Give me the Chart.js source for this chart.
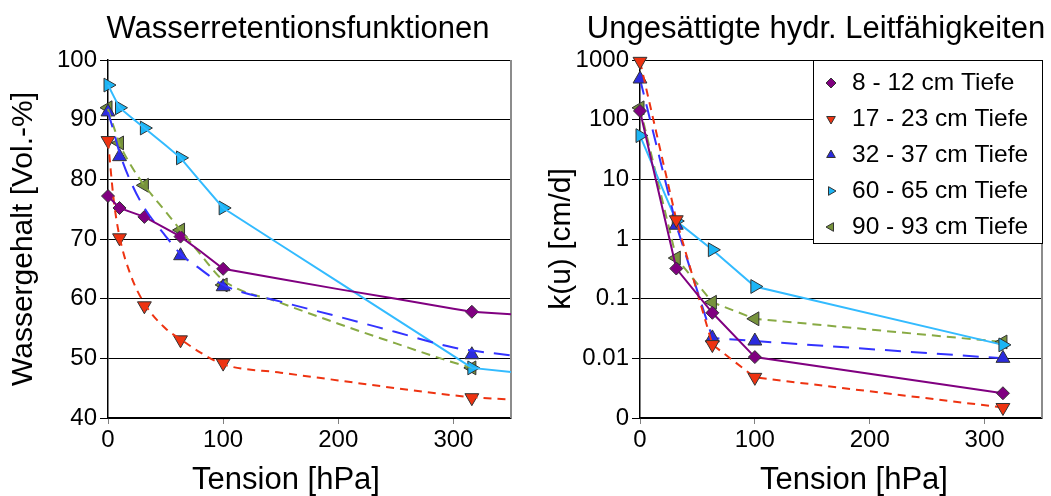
<!DOCTYPE html>
<html>
<head>
<meta charset="utf-8">
<script src="https://cdn.jsdelivr.net/npm/chart.js"></script>
<style>
  html, body { margin: 0; background: #fff; overflow: hidden; }
  #wrap { position: relative; width: 1051px; height: 496px; font-family: 'Liberation Sans', Arial, sans-serif; }
  .panel { position: absolute; top: 0; height: 496px; }
  .txt { position: absolute; white-space: nowrap; text-align: center; color: #000; line-height: 1; }
  .title { font-size: 31px; top: 12px; }
  .xtitle { font-size: 31px; top: 463px; }
</style>
</head>
<body>
<div id="wrap">
  <div class="panel" style="left:0;width:530px"><canvas id="retention"></canvas></div>
  <div class="panel" style="left:530px;width:521px"><canvas id="conductivity"></canvas></div>
  <div class="txt title" style="left:48px;width:500px">Wasserretentionsfunktionen</div>
  <div class="txt title" style="left:566px;width:500px">Ungesättigte hydr. Leitfähigkeiten</div>
  <div class="txt xtitle" style="left:136px;width:300px">Tension [hPa]</div>
  <div class="txt xtitle" style="left:704px;width:300px">Tension [hPa]</div>
</div>
<script>
// Legende / Tiefen
const depthLabels = ['8 - 12 cm Tiefe', '17 - 23 cm Tiefe', '32 - 37 cm Tiefe', '60 - 65 cm Tiefe', '90 - 93 cm Tiefe'];

// Wassergehalt [Vol.-%] - Messpunkte (null = kein Messwert)
const retTension = [0, 10, 31.6, 63, 100, 316];
const wg8_12  = [77.2, 75.2, 73.7, 70.4, 65.0, 57.8];
const wg17_23 = [86.5, 70.2, 58.8, 53.1, 49.2, 43.4];
const wg32_37 = [91.3, 83.8, null, 67.2, 62.0, 50.6];
const wg60_65 = [95.8, 92.0, 88.6, 83.6, 75.2, 48.4];
const wg90_93 = [92.0, 86.1, 79.0, 71.5, 62.3, 48.4];

// angepasste Kurven
const curveTension = [0, 5, 10, 20, 31.6, 50, 63, 80, 100, 150, 200, 250, 300, 316, 350];
const fit8_12  = [77.2, 76.2, 75.2, 74.5, 73.7, 71.8, 70.4, 68.0, 65.0, 63.3, 61.6, 60.0, 58.3, 57.8, 57.4];
const fit17_23 = [86.5, 76.5, 70.4, 63.8, 59.2, 55.0, 53.2, 51.0, 49.0, 47.6, 46.3, 45.0, 43.8, 43.5, 43.1];
const fit32_37 = [91.3, 88.0, 84.5, 79.5, 75.2, 70.5, 67.5, 65.0, 62.3, 59.5, 57.0, 54.4, 51.8, 51.3, 50.5];
const fit60_65 = [95.8, 93.9, 92.0, 90.4, 88.6, 85.7, 83.6, 79.7, 75.2, 69.0, 62.8, 56.6, 50.4, 48.4, 47.7];
const fit90_93 = [91.8, 88.8, 86.0, 82.3, 79.0, 74.6, 71.5, 67.5, 63.1, 59.3, 55.8, 52.5, 49.3, 48.4, null];

// k(u) [cm/d]
const kTension = [0, 31.6, 63, 100, 316];
const k8_12  = [140, 0.32, 0.058, 0.0105, 0.0026];
const k17_23 = [950, 2.1, 0.017, 0.0048, 0.0015];
const k32_37 = [480, 1.7, 0.022, 0.0195, 0.010];
const k60_65 = [54, 2.0, 0.66, 0.16, 0.0168];
const k90_93 = [158, 0.48, 0.087, 0.046, 0.0188];

// Achsen
const xTicks = [0, 100, 200, 300];
const wgTicks = [40, 50, 60, 70, 80, 90, 100];
const kTicks = [0.001, 0.01, 0.1, 1, 10, 100, 1000];

// Stil
const markerColors = ['#800080', '#ee3311', '#2b2bdd', '#1cb5f5', '#77933c'];
const lineColors   = ['#800080', '#ee3311', '#3333ff', '#33bbff', '#88aa44'];
const lineDashes   = [[], [8, 6], [16, 10], [], [9, 6]];
const curveSmooth  = [false, true, true, false, true];
const markerStyles = ['rectRot', 'triangle', 'triangle', 'triangle', 'triangle'];
const markerRot    = [0, 180, 0, 90, 270];

Chart.defaults.font.family = "'Liberation Sans', Arial, sans-serif";
Chart.defaults.color = '#000';

const toXY = (xs, ys) => xs.map((x, i) => ({ x: x, y: ys[i] })).filter(p => p.y !== null);

function markerSet(i, xs, ys, withLine) {
  return {
    label: depthLabels[i],
    data: toXY(xs, ys),
    showLine: withLine,
    borderColor: lineColors[i],
    borderWidth: 2,
    borderDash: lineDashes[i],
    backgroundColor: markerColors[i],
    pointStyle: markerStyles[i],
    pointRotation: markerRot[i],
    pointRadius: i === 0 ? 6.5 : 8,
    pointBorderColor: '#333',
    pointBorderWidth: 1,
    clip: false
  };
}

function curveSet(i, ys) {
  return {
    label: depthLabels[i] + ' (Anpassung)',
    data: toXY(curveTension, ys),
    showLine: true,
    borderColor: lineColors[i],
    borderWidth: 2,
    borderDash: lineDashes[i],
    pointRadius: 0,
    cubicInterpolationMode: curveSmooth[i] ? 'monotone' : 'default',
    tension: 0,
    clip: false
  };
}

// grauer rechter Rahmen
const rightFrame = {
  id: 'rightFrame',
  beforeDatasetsDraw(chart) {
    const { ctx, chartArea } = chart;
    ctx.save();
    ctx.strokeStyle = '#8c8c8c';
    ctx.lineWidth = 2;
    ctx.beginPath();
    ctx.moveTo(chartArea.right, chartArea.top);
    ctx.lineTo(chartArea.right, chartArea.bottom);
    ctx.stroke();
    ctx.restore();
  }
};

// Legende im Diagramm (rechts oben)
const depthLegend = {
  id: 'depthLegend',
  afterDraw(chart) {
    const { ctx, chartArea } = chart;
    const w = 229, h = 183;
    const x0 = chartArea.right - w, y0 = chartArea.top;
    ctx.save();
    ctx.fillStyle = '#fff';
    ctx.fillRect(x0, y0, w, h);
    ctx.strokeStyle = '#000';
    ctx.lineWidth = 1;
    ctx.strokeRect(x0 + 0.5, y0 + 0.5, w, h);
    ctx.font = "24.5px 'Liberation Sans', Arial, sans-serif";
    ctx.textBaseline = 'middle';
    depthLabels.forEach((label, i) => {
      const y = y0 + 23 + i * 36;
      ctx.fillStyle = markerColors[i];
      ctx.strokeStyle = '#333';
      ctx.lineWidth = 1;
      Chart.helpers.drawPoint(ctx, {
        pointStyle: markerStyles[i], rotation: markerRot[i], radius: 5, borderWidth: 1
      }, x0 + 18, y);
      ctx.fillStyle = '#000';
      ctx.fillText(label, x0 + 39, y);
    });
    ctx.restore();
  }
};

function xScale() {
  return {
    type: 'linear',
    min: 0,
    max: 350,
    afterBuildTicks: s => { s.ticks = xTicks.map(v => ({ value: v })); },
    afterFit: s => { s.height = 78; },
    ticks: { font: { size: 24 }, padding: 2, maxRotation: 0 },
    grid: { drawOnChartArea: false, color: '#808080', tickLength: 6 },
    border: { color: '#000', width: 1.5 }
  };
}

function yTitle(text, pad) {
  return { display: true, text: text, font: { size: 30 }, padding: { top: pad, bottom: 0 } };
}

new Chart(document.getElementById('retention'), {
  type: 'scatter',
  data: {
    datasets: [
      curveSet(0, fit8_12), curveSet(1, fit17_23), curveSet(2, fit32_37),
      curveSet(3, fit60_65), curveSet(4, fit90_93),
      markerSet(0, retTension, wg8_12, false), markerSet(1, retTension, wg17_23, false),
      markerSet(2, retTension, wg32_37, false), markerSet(3, retTension, wg60_65, false),
      markerSet(4, retTension, wg90_93, false)
    ]
  },
  options: {
    responsive: true,
    maintainAspectRatio: false,
    animation: false,
    layout: { padding: { top: 60, right: 19, left: 0, bottom: 0 } },
    plugins: { legend: { display: false }, tooltip: { enabled: false } },
    scales: {
      x: xScale(),
      y: {
        min: 40,
        max: 100,
        afterBuildTicks: s => { s.ticks = wgTicks.map(v => ({ value: v })); },
        afterFit: s => { s.width = 108; },
        ticks: { font: { size: 24 }, padding: 3 },
        grid: { color: '#000', tickLength: 8 },
        border: { color: '#000', width: 1.5 },
        title: yTitle('Wassergehalt [Vol.-%]', 6)
      }
    }
  },
  plugins: [rightFrame]
});

new Chart(document.getElementById('conductivity'), {
  type: 'scatter',
  data: {
    datasets: [
      markerSet(0, kTension, k8_12, true), markerSet(1, kTension, k17_23, true),
      markerSet(2, kTension, k32_37, true), markerSet(3, kTension, k60_65, true),
      markerSet(4, kTension, k90_93, true)
    ]
  },
  options: {
    responsive: true,
    maintainAspectRatio: false,
    animation: false,
    layout: { padding: { top: 60, right: 9, left: 0, bottom: 0 } },
    plugins: { legend: { display: false }, tooltip: { enabled: false } },
    scales: {
      x: xScale(),
      y: {
        type: 'logarithmic',
        min: 0.001,
        max: 1000,
        afterBuildTicks: s => { s.ticks = kTicks.map(v => ({ value: v })); },
        afterFit: s => { s.width = 110; },
        ticks: {
          font: { size: 24 },
          padding: 3,
          callback: v => (v === 0.001 ? '0' : String(v))
        },
        grid: { color: '#000', tickLength: 8 },
        border: { color: '#000', width: 1.5 },
        title: yTitle('k(u) [cm/d]', 14)
      }
    }
  },
  plugins: [rightFrame, depthLegend]
});
</script>
</body>
</html>
